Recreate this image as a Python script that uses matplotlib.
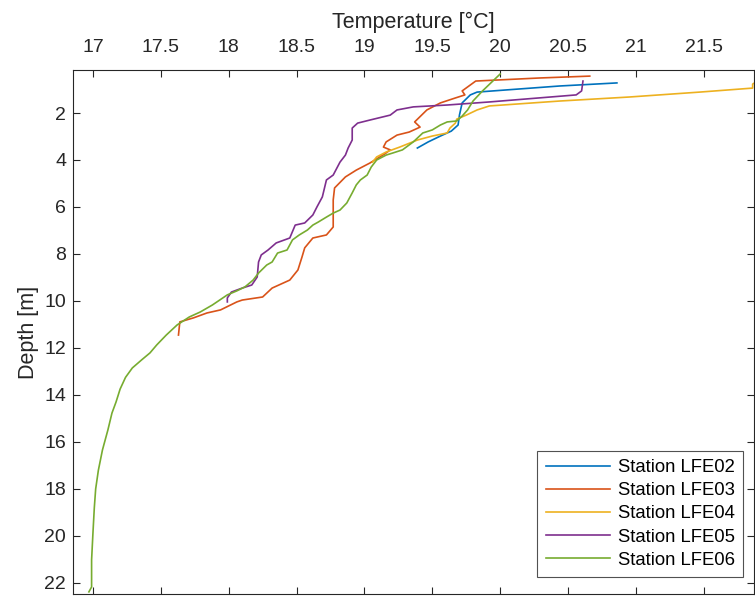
"""Temperature profiles for the LFE stations, depth increasing downward."""
import matplotlib.pyplot as plt
import numpy as np

plt.rcParams["font.family"] = ["Liberation Sans", "DejaVu Sans"]

# temperature [degC] and depth [m] along each cast
lfe02_t = [20.86, 20.44, 19.83, 19.78, 19.72, 19.70, 19.69, 19.64, 19.56, 19.47, 19.39]
lfe02_d = [0.72, 0.85, 1.11, 1.23, 1.57, 2.09, 2.51, 2.77, 2.98, 3.23, 3.49]

lfe03_t = [20.66, 20.29, 19.82, 19.72, 19.74, 19.67, 19.56, 19.46, 19.37, 19.41, 19.33,
           19.24, 19.16, 19.14, 19.19, 19.15, 19.04, 18.94, 18.86, 18.78, 18.77, 18.77,
           18.77, 18.72, 18.62, 18.56, 18.54, 18.51, 18.45, 18.32, 18.25, 18.10, 18.06,
           17.94, 17.84, 17.74, 17.64, 17.63]
lfe03_d = [0.43, 0.51, 0.64, 1.06, 1.23, 1.36, 1.57, 1.87, 2.38, 2.60, 2.81,
           2.94, 3.23, 3.45, 3.57, 3.74, 4.13, 4.43, 4.72, 5.19, 5.70, 6.34,
           6.85, 7.19, 7.32, 7.74, 8.13, 8.68, 9.11, 9.45, 9.83, 9.96, 10.04,
           10.38, 10.51, 10.72, 10.89, 11.45]

lfe04_t = [21.95, 21.86, 21.86, 21.47, 20.95, 20.44, 19.92, 19.83, 19.75, 19.68, 19.67,
           19.63, 19.61, 19.50, 19.39, 19.26, 19.16, 19.09, 19.06]
lfe04_d = [0.45, 0.77, 0.94, 1.11, 1.32, 1.49, 1.70, 1.87, 2.09, 2.26, 2.43,
           2.64, 2.85, 2.98, 3.15, 3.45, 3.66, 3.87, 4.09]

lfe05_t = [20.61, 20.60, 20.56, 19.92, 19.61, 19.36, 19.24, 19.19, 19.04, 18.95, 18.91,
           18.91, 18.88, 18.86, 18.82, 18.77, 18.72, 18.69, 18.65, 18.62, 18.56, 18.49,
           18.45, 18.35, 18.29, 18.24, 18.22, 18.21, 18.17, 18.10, 18.02, 17.99, 17.99]
lfe05_d = [0.64, 1.06, 1.23, 1.53, 1.66, 1.74, 1.87, 2.09, 2.30, 2.43, 2.64,
           3.15, 3.49, 3.79, 4.09, 4.64, 4.85, 5.57, 6.00, 6.34, 6.68, 6.77,
           7.32, 7.53, 7.83, 8.04, 8.34, 8.98, 9.32, 9.45, 9.62, 9.87, 10.04]

lfe06_t = [20.00, 19.87, 19.80, 19.76, 19.72, 19.68, 19.61, 19.56, 19.50, 19.43, 19.36,
           19.28, 19.21, 19.16, 19.09, 19.05, 19.02, 18.97, 18.94, 18.91, 18.87, 18.82,
           18.77, 18.72, 18.66, 18.62, 18.58, 18.52, 18.47, 18.43, 18.36, 18.32, 18.28,
           18.22, 18.18, 18.12, 18.06, 17.99, 17.88, 17.79, 17.71, 17.62, 17.54, 17.47,
           17.42, 17.36, 17.29, 17.24, 17.20, 17.17, 17.14, 17.11, 17.07, 17.04, 17.02,
           17.01, 17.00, 16.99, 16.99, 16.97]
lfe06_d = [0.34, 1.06, 1.49, 1.87, 2.13, 2.34, 2.38, 2.51, 2.72, 2.85, 3.23,
           3.57, 3.70, 3.79, 4.00, 4.30, 4.64, 4.85, 5.06, 5.40, 5.83, 6.13,
           6.26, 6.43, 6.64, 6.77, 6.98, 7.19, 7.40, 7.83, 7.96, 8.34, 8.47,
           8.81, 9.11, 9.40, 9.57, 9.74, 10.17, 10.47, 10.68, 11.02, 11.45, 11.87,
           12.21, 12.50, 12.85, 13.25, 13.75, 14.30, 14.77, 15.49, 16.34, 17.20, 18.00,
           18.80, 19.87, 21.02, 22.17, 22.38]

stations = ["Station LFE02", "Station LFE03", "Station LFE04", "Station LFE05", "Station LFE06"]
colors = ["#0072BD", "#D95319", "#EDB120", "#7E2F8E", "#77AC30"]
profiles = [(lfe02_t, lfe02_d), (lfe03_t, lfe03_d), (lfe04_t, lfe04_d),
            (lfe05_t, lfe05_d), (lfe06_t, lfe06_d)]

x_ticks = np.arange(17, 21.51, 0.5)
y_ticks = np.arange(2, 22.1, 2)

fig = plt.figure(figsize=(7.55, 5.97), dpi=100)
ax = fig.add_axes([73 / 755, 3 / 597, 681 / 755, 524 / 597])

for (t, d), name, c in zip(profiles, stations, colors):
    ax.plot(t, d, color=c, lw=1.2, label=name)

ax.set_xlim(16.853, 21.87)
ax.set_ylim(22.47, 0.17)
ax.set_xticks(x_ticks)
ax.set_xticklabels([f"{v:g}" for v in x_ticks])
ax.set_yticks(y_ticks)
ax.set_yticklabels([f"{v:g}" for v in y_ticks])

ax.xaxis.set_label_position("top")
ax.tick_params(axis="both", direction="in", length=5, width=0.8, color="#262626",
               labelsize=14, labelcolor="#262626", top=True, bottom=True,
               left=True, right=True, labeltop=True, labelbottom=False)
ax.tick_params(axis="x", pad=10)
ax.tick_params(axis="y", pad=5)
for sp in ax.spines.values():
    sp.set_color("#262626")
    sp.set_linewidth(0.8)

ax.set_xlabel("Temperature [°C]", fontsize=15.5, color="#262626", labelpad=8)
ax.set_ylabel("Depth [m]", fontsize=15.5, color="#262626", labelpad=4)

leg = ax.legend(loc="lower right", bbox_to_anchor=((743 - 73) / 681, (594 - 577) / 524),
                fontsize=13.3, frameon=True, fancybox=False, edgecolor="#262626",
                handlelength=3.5, borderaxespad=0, labelspacing=0.33, borderpad=0.45,
                handletextpad=0.4)
leg.get_frame().set_linewidth(0.8)

fig.savefig("out.png", dpi=100)
